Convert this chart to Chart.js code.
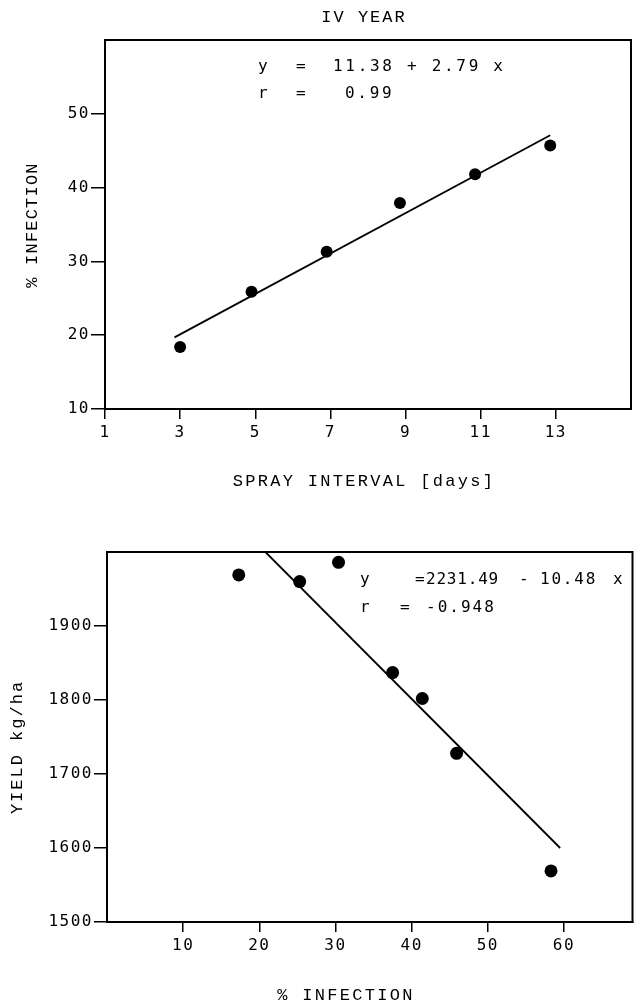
<!DOCTYPE html>
<html>
<head>
<meta charset="utf-8">
<script src="https://cdn.jsdelivr.net/npm/chart.js@4/dist/chart.umd.min.js"></script>
<style>
  body { margin: 0; background: #fff; }
  canvas { position: absolute; left: 0; }
  #top { top: 0; }
  #bottom { top: 500px; }
</style>
</head>
<body>
<canvas id="top" width="639" height="500"></canvas>
<canvas id="bottom" width="639" height="505"></canvas>
<script>
// IV YEAR: % infection vs spray interval
const sprayDays = [3.0, 4.9, 6.9, 8.85, 10.85, 12.85]
const infection = [18.4, 25.9, 31.3, 37.9, 41.8, 45.7]
const fitDaysX = [2.85, 12.85]
const fitDaysY = [19.7, 47.1]
const dayTicks = [1, 3, 5, 7, 9, 11, 13]
const infTicks = [10, 20, 30, 40, 50]

// yield vs % infection
const infectionPct = [17.3, 25.3, 30.4, 37.5, 41.4, 45.9, 58.3]
const yieldKg = [1969, 1960, 1986, 1837, 1802, 1728, 1569]
const fitInfX = [20.8, 59.5]
const fitInfY = [2000, 1600]
const pctTicks = [10, 20, 30, 40, 50, 60]
const yieldTicks = [1500, 1600, 1700, 1800, 1900]

const monoSerif = '"Liberation Mono", "Courier New", monospace'
const monoSans = '"DejaVu Sans Mono", monospace'

function pairs(xs, ys) {
  return xs.map((x, i) => ({ x: x, y: ys[i] }))
}

// frame + free text drawn on top of the chart
const extras = {
  id: 'extras',
  beforeDraw(chart) {
    chart.ctx.letterSpacing = '1.5px'
  },
  afterDraw(chart, args, opts) {
    const ctx = chart.ctx
    const a = chart.chartArea
    ctx.save()
    ctx.strokeStyle = '#000'
    ctx.lineWidth = 2
    ctx.strokeRect(a.left, a.top, a.right - a.left, a.bottom - a.top)
    ctx.fillStyle = '#000'
    ctx.textBaseline = 'middle'
    opts.texts.forEach(t => {
      ctx.save()
      ctx.font = t.font
      ctx.letterSpacing = t.spacing
      ctx.textAlign = t.align || 'left'
      ctx.translate(t.x, t.y)
      if (t.rotate) ctx.rotate(-Math.PI / 2)
      ctx.fillText(t.text, 0, 0)
      ctx.restore()
    })
    ctx.restore()
  }
}

function axis(min, max, tickVals, tickLen, size, horizontal) {
  return {
    type: 'linear',
    min: min,
    max: max,
    afterBuildTicks: s => { s.ticks = tickVals.map(v => ({ value: v })) },
    afterFit: s => { if (horizontal) s.height = size; else s.width = size },
    grid: { drawOnChartArea: false, tickLength: tickLen, color: '#000', lineWidth: 1.5 },
    border: { display: true, color: '#000', width: 2 },
    ticks: {
      color: '#000',
      font: { family: monoSans, size: 16 },
      padding: horizontal ? 4 : 1,
      maxRotation: 0,
      autoSkip: false,
      callback: v => String(v)
    }
  }
}

function datasets(px, py, lx, ly, r) {
  return [
    {
      data: pairs(px, py),
      pointRadius: r,
      pointHoverRadius: r,
      backgroundColor: '#000',
      borderWidth: 0
    },
    {
      type: 'line',
      data: pairs(lx, ly),
      borderColor: '#000',
      borderWidth: 1.8,
      pointRadius: 0,
      fill: false
    }
  ]
}

const common = {
  responsive: false,
  animation: false,
  devicePixelRatio: 1,
  plugins: { legend: { display: false }, tooltip: { enabled: false } }
}

const big = '17px ' + monoSerif
const eq = '16px ' + monoSans

new Chart(document.getElementById('top'), {
  type: 'scatter',
  data: { datasets: datasets(sprayDays, infection, fitDaysX, fitDaysY, 6) },
  options: Object.assign({}, common, {
    layout: { padding: { top: 40, right: 8, left: 0, bottom: 0 } },
    scales: {
      x: axis(1, 15, dayTicks, 10, 91, true),
      y: axis(10, 60, infTicks, 14, 105, false)
    },
    plugins: Object.assign({}, common.plugins, {
      extras: {
        texts: [
          { text: 'IV YEAR', x: 364, y: 17, font: big, spacing: '2px', align: 'center' },
          { text: '% INFECTION', x: 32, y: 225, font: big, spacing: '1.2px', align: 'center', rotate: true },
          { text: 'SPRAY INTERVAL [days]', x: 364, y: 481, font: big, spacing: '2.3px', align: 'center' },
          { text: 'y', x: 258, y: 67, font: eq, spacing: '2.5px' },
          { text: '=', x: 296, y: 67, font: eq, spacing: '2.5px' },
          { text: '11.38 + 2.79 x', x: 333, y: 67, font: eq, spacing: '2.7px' },
          { text: 'r', x: 258, y: 94, font: eq, spacing: '2.5px' },
          { text: '=', x: 296, y: 94, font: eq, spacing: '2.5px' },
          { text: '0.99', x: 345, y: 94, font: eq, spacing: '2.7px' }
        ]
      }
    })
  }),
  plugins: [extras]
})

new Chart(document.getElementById('bottom'), {
  type: 'scatter',
  data: { datasets: datasets(infectionPct, yieldKg, fitInfX, fitInfY, 6.5) },
  options: Object.assign({}, common, {
    layout: { padding: { top: 52, right: 2, left: 0, bottom: 0 } },
    scales: {
      x: axis(0, 69, pctTicks, 10, 83, true),
      y: axis(1500, 2000, yieldTicks, 13, 107, false)
    },
    plugins: Object.assign({}, common.plugins, {
      extras: {
        texts: [
          { text: 'YIELD kg/ha', x: 17, y: 247, font: big, spacing: '2px', align: 'center', rotate: true },
          { text: '% INFECTION', x: 346, y: 495, font: big, spacing: '2.3px', align: 'center' },
          { text: 'y', x: 360, y: 80, font: eq, spacing: '2px' },
          { text: '=', x: 415, y: 80, font: eq, spacing: '2px' },
          { text: '2231.49', x: 426, y: 80, font: eq, spacing: '0.8px' },
          { text: '-', x: 519, y: 80, font: eq, spacing: '2px' },
          { text: '10.48', x: 540, y: 80, font: eq, spacing: '1.8px' },
          { text: 'x', x: 613, y: 80, font: eq, spacing: '2px' },
          { text: 'r', x: 360, y: 108, font: eq, spacing: '2px' },
          { text: '=', x: 400, y: 108, font: eq, spacing: '2px' },
          { text: '-0.948', x: 426, y: 108, font: eq, spacing: '2px' }
        ]
      }
    })
  }),
  plugins: [extras]
})
</script>
</body>
</html>
